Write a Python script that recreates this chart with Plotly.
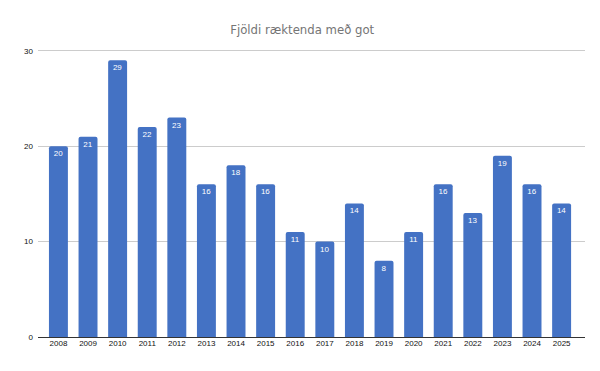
import plotly.graph_objects as go

years = ["2008", "2009", "2010", "2011", "2012", "2013", "2014", "2015", "2016",
         "2017", "2018", "2019", "2020", "2021", "2022", "2023", "2024", "2025"]
counts = [20, 21, 29, 22, 23, 16, 18, 16, 11, 10, 14, 8, 11, 16, 13, 19, 16, 14]
y_ticks = [0, 10, 20, 30]
title_text = "Fjöldi ræktenda með got"

fig = go.Figure(go.Bar(
    x=years,
    y=counts,
    width=0.64,
    marker=dict(color="#4472C4", cornerradius=2, line=dict(width=0)),
    text=[str(v) for v in counts],
    textposition="inside",
    insidetextanchor="end",
    textfont=dict(color="white", size=8, family="Liberation Sans, Arial, sans-serif"),
    textangle=0,
    hoverinfo="x+y",
))

fig.update_layout(
    width=592, height=363,
    margin=dict(l=30, r=15, t=38, b=34),
    paper_bgcolor="white",
    plot_bgcolor="white",
    title=dict(
        text=title_text,
        x=0.497, xanchor="center",
        y=0.942, yanchor="middle",
        font=dict(family="Liberation Sans Narrow, DejaVu Sans Condensed, Arial Narrow, sans-serif",
                  size=13, color="#757575"),
    ),
    showlegend=False,
    uniformtext=dict(minsize=8, mode="show"),
)

fig.update_xaxes(
    type="category",
    range=[-0.69, 17.79],
    showgrid=False,
    showline=False,
    ticks="",
    tickfont=dict(family="Liberation Sans, Arial, sans-serif", size=8, color="#111111"),
    fixedrange=True,
)

fig.update_yaxes(
    range=[0, 30.5],
    tickvals=y_ticks,
    showgrid=True,
    gridcolor="#cccccc",
    gridwidth=1,
    zeroline=True,
    zerolinecolor="#333333",
    zerolinewidth=1,
    showline=False,
    ticks="",
    ticklabelstandoff=4,
    tickfont=dict(family="Liberation Sans, Arial, sans-serif", size=8, color="#111111"),
    fixedrange=True,
)

fig.write_html("out.html")
